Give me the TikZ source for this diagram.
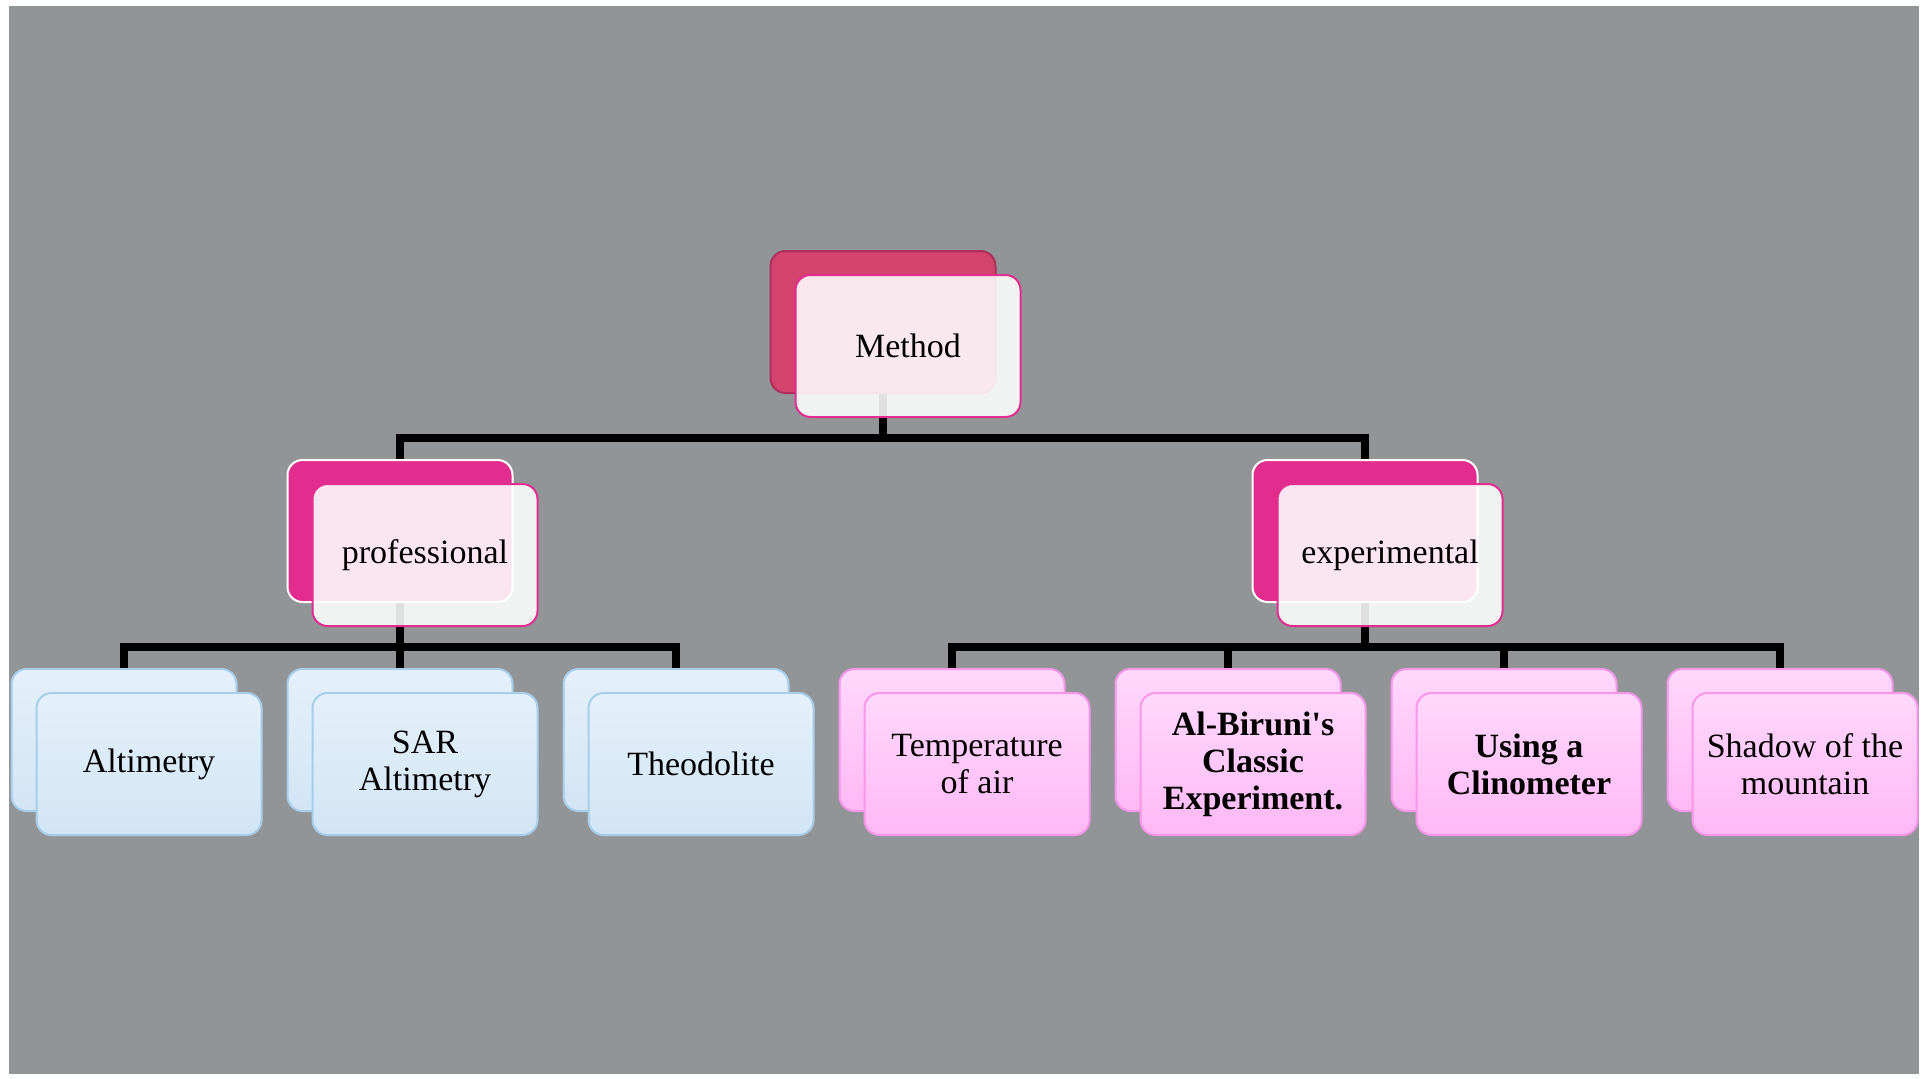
\documentclass[tikz,border=0pt]{standalone}
\usepackage{fontspec}
\setmainfont{Liberation Serif}[Ligatures=TeXOff]
\usetikzlibrary{positioning}
\pgfdeclarelayer{bg}
\pgfsetlayers{bg,main}
\definecolor{boardgray}{RGB}{146,149,152}
\definecolor{rosedark}{RGB}{212,67,110}
\definecolor{roseline}{RGB}{172,48,92}
\definecolor{hotpink}{RGB}{226,45,143}
\definecolor{bluetop}{RGB}{228,240,250}
\definecolor{bluebot}{RGB}{210,229,245}
\definecolor{blueline}{RGB}{168,205,232}
\definecolor{pinktop}{RGB}{255,216,252}
\definecolor{pinkbot}{RGB}{255,184,245}
\definecolor{pinkline}{RGB}{248,150,234}
\tikzset{
  card/.style={rounded corners=7.5pt, minimum width=112.5pt, minimum height=71pt,
    inner sep=0pt, line width=1pt, align=center,
    font=\fontsize{17}{18.5}\selectfont},
  topback/.style={card, draw=roseline, fill=rosedark},
  midback/.style={card, draw=white, fill=hotpink},
  glass/.style={card, draw=hotpink, fill=white, fill opacity=0.88, text opacity=1},
  bluecard/.style={card, draw=blueline, top color=bluetop, bottom color=bluebot},
  pinkcard/.style={card, draw=pinkline, top color=pinktop, bottom color=pinkbot},
  conn/.style={line width=4pt, black}
}
\begin{document}
\begin{tikzpicture}[x=0.5pt,y=-0.5pt]
  \useasboundingbox (0,0) rectangle (1927,1078);
  \begin{pgfonlayer}{bg}
    \fill[white] (0,0) rectangle (1927,1078);
    \fill[boardgray] (9,6) rectangle (1919,1074);
  \end{pgfonlayer}

  % top
  \node[topback] (methodb) at (883,322) {};
  \node[glass] (method) at ([shift={(12.5pt,-12pt)}]methodb) {Method};

  % second row
  \node[midback] (profb) at (400,531) {};
  \node[glass] (prof) at ([shift={(12.5pt,-12pt)}]profb) {professional};
  \node[midback] (expb) at (1365,531) {};
  \node[glass] (exp) at ([shift={(12.5pt,-12pt)}]expb) {experimental};

  % leaves
  \node[bluecard] (altb) at (124,740) {};
  \node[bluecard] (alt) at ([shift={(12.5pt,-12pt)}]altb) {Altimetry};
  \node[bluecard] (sarb) at (400,740) {};
  \node[bluecard] (sar) at ([shift={(12.5pt,-12pt)}]sarb) {SAR\\Altimetry};
  \node[bluecard] (theob) at (676,740) {};
  \node[bluecard] (theo) at ([shift={(12.5pt,-12pt)}]theob) {Theodolite};

  \node[pinkcard] (tempb) at (952,740) {};
  \node[pinkcard] (temp) at ([shift={(12.5pt,-12pt)}]tempb) {Temperature\\of air};
  \node[pinkcard] (birunib) at (1228,740) {};
  \node[pinkcard] (biruni) at ([shift={(12.5pt,-12pt)}]birunib) {\bfseries Al-Biruni's\\\bfseries Classic\\\bfseries Experiment.};
  \node[pinkcard] (clinob) at (1504,740) {};
  \node[pinkcard] (clino) at ([shift={(12.5pt,-12pt)}]clinob) {\bfseries Using a\\\bfseries Clinometer};
  \node[pinkcard] (shadowb) at (1780,740) {};
  \node[pinkcard] (shadow) at ([shift={(12.5pt,-12pt)}]shadowb) {Shadow of the\\mountain};

  % connectors behind the cards
  \begin{pgfonlayer}{bg}
    \draw[conn] (methodb.south) -- ++(0,44) -| (profb.north);
    \draw[conn] (methodb.south) -- ++(0,44) -| (expb.north);
    \foreach \kid in {altb,sarb,theob}
      \draw[conn] (profb.south) -- ++(0,44) -| (\kid.north);
    \foreach \kid in {tempb,birunib,clinob,shadowb}
      \draw[conn] (expb.south) -- ++(0,44) -| (\kid.north);
  \end{pgfonlayer}
\end{tikzpicture}
\end{document}
